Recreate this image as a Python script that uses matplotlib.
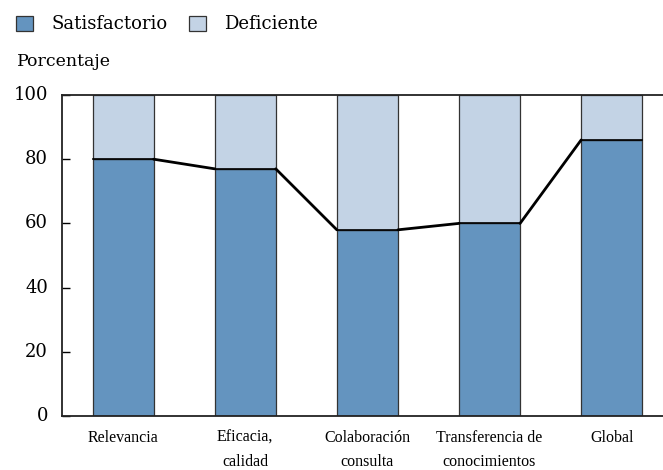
import matplotlib
matplotlib.use("Agg")
import matplotlib.pyplot as plt
from matplotlib.patches import Patch
import numpy as np

categories = ["Relevancia", "Eficacia,\ncalidad", "Colaboración\nconsulta",
              "Transferencia de\nconocimientos", "Global"]
satisfactorio = [80, 77, 58, 60, 86]
deficiente = [100 - v for v in satisfactorio]
yticks = [0, 20, 40, 60, 80, 100]

dark = "#6494BF"
light = "#C3D3E5"
edge = "#333333"

plt.rcParams['font.family'] = ['DejaVu Serif']
tick_font = ['Liberation Serif', 'DejaVu Serif']

fig = plt.figure(figsize=(6.63, 4.70), dpi=100)
ax = fig.add_axes([62/663, 54/470, 1 - 62/663, (416-95)/470])

x = np.arange(len(categories))
w = 0.5
ax.bar(x, satisfactorio, width=w, color=dark, edgecolor=edge, linewidth=0.9, zorder=2)
ax.bar(x, deficiente, width=w, bottom=satisfactorio, color=light, edgecolor=edge,
       linewidth=0.9, zorder=2)

# tops of satisfactory bars (thin) and connecting segments (thick)
for xi, v in zip(x, satisfactorio):
    ax.plot([xi - w/2, xi + w/2], [v, v], color="black", linewidth=1.2, zorder=3)
for i in range(len(x) - 1):
    ax.plot([x[i] + w/2, x[i+1] - w/2], [satisfactorio[i], satisfactorio[i+1]],
            color="black", linewidth=2.0, zorder=3, solid_capstyle='round')

ax.set_xlim(-0.5, 4.42)
ax.set_ylim(0, 100)
ax.set_yticks(yticks)
ax.set_xticks(x)
ax.set_xticklabels(categories, fontsize=11.5, linespacing=1.65, family=tick_font)
ax.tick_params(axis='x', length=0, pad=10)
ax.tick_params(axis='y', direction='in', length=6, width=1.0, labelsize=13, pad=10)
for lab in ax.get_yticklabels():
    lab.set_verticalalignment('center')

for s in ['left', 'top', 'bottom']:
    ax.spines[s].set_linewidth(1.3)
    ax.spines[s].set_color('#222222')
ax.spines['right'].set_visible(False)

fig.text(17/663, 1 - 62/470, "Porcentaje", fontsize=12.5, va='center', ha='left')

handles = [Patch(facecolor=dark, edgecolor=edge, linewidth=0.9),
           Patch(facecolor=light, edgecolor=edge, linewidth=0.9)]
fig.legend(handles, ["Satisfactorio", "Deficiente"], loc='upper left',
           bbox_to_anchor=(0/663, 1 + 1/470), ncol=2, frameon=False, fontsize=13,
           handlelength=0.9, handleheight=0.9, handletextpad=1.05, columnspacing=1.2)

fig.savefig("out.png", dpi=100)
